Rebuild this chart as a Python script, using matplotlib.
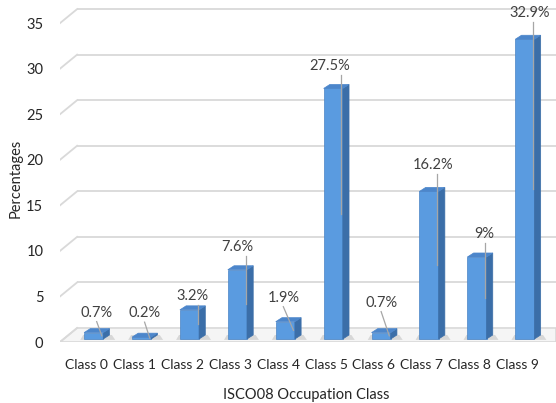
import matplotlib
matplotlib.use("Agg")
import matplotlib.pyplot as plt
from matplotlib.patches import Polygon

categories = ["Class 0", "Class 1", "Class 2", "Class 3", "Class 4",
              "Class 5", "Class 6", "Class 7", "Class 8", "Class 9"]
values = [0.7, 0.2, 3.2, 7.6, 1.9, 27.5, 0.7, 16.2, 9.0, 32.9]
y_ticks = [0, 5, 10, 15, 20, 25, 30, 35]
y_label = "Percentages"
x_label = "ISCO08 Occupation Class"

# label offsets (pixels) relative to top-centre of each bar front face
label_offsets = [(3, 20), (3, 24), (3, 14), (0, 23), (-2, 24),
                 (-4, 22), (0, 30), (4, 26), (7, 23), (5, 26)]

plt.rcParams['font.family'] = ['Lato', 'DejaVu Sans']

W, H = 556, 403
fig = plt.figure(figsize=(W / 100, H / 100), dpi=100)
ax = fig.add_axes([60 / W, 1 - 342 / H, 496 / W, 337 / H])
ax.set_xlim(-0.553, 9.80)
ax.set_ylim(0, 36.99)
for s in ax.spines.values():
    s.set_visible(False)

grid_c = '#D9D9D9'
# wall depth (data units)
wdx, wdy = 0.357, 1.54
xmin, xmax = ax.get_xlim()

# floor
floor = Polygon([(xmin, 0), (xmin + wdx, wdy), (xmax, wdy), (xmax, 0)],
                closed=True, facecolor='#F5F5F5', edgecolor=grid_c, lw=1.2, zorder=1)
ax.add_patch(floor)
for v in y_ticks:
    if v > 0:
        ax.plot([xmin + wdx, xmax], [v + wdy, v + wdy], color=grid_c, lw=1.3, zorder=1,
                solid_capstyle='butt')
    ax.plot([xmin, xmin + wdx], [v, v + wdy], color=grid_c, lw=1.3, zorder=1)

# bars
xs = list(range(len(categories)))
xshift, w = 0.15, 0.40
bdx, bdy = 0.13, 0.44
y0 = 0.33
front_c, side_c, top_c = '#5A9BE0', '#3B6EA8', '#4C86CB'
for i, v in zip(xs, values):
    xc = i + xshift
    x0 = xc - w / 2
    # soft floor shadow
    sh = Polygon([(x0 - 0.08, y0 - 0.1), (x0 + w + bdx + 0.12, y0 - 0.1),
                  (x0 + w + bdx + 0.05, y0 + bdy), (x0 - 0.02, y0 + bdy)],
                 closed=True, facecolor='#A0A0A0', edgecolor='none', alpha=0.35, zorder=2)
    ax.add_patch(sh)
    ax.bar(xc, v, bottom=y0, width=w, color=front_c, edgecolor='#4A84C4', lw=0.5, zorder=3)
    side = Polygon([(x0 + w, y0), (x0 + w + bdx, y0 + bdy), (x0 + w + bdx, y0 + v + bdy),
                    (x0 + w, y0 + v)], closed=True, facecolor=side_c, edgecolor=side_c,
                   lw=0.5, zorder=3)
    top = Polygon([(x0, y0 + v), (x0 + bdx, y0 + v + bdy), (x0 + w + bdx, y0 + v + bdy),
                   (x0 + w, y0 + v)], closed=True, facecolor=top_c, edgecolor=top_c,
                  lw=0.5, zorder=3)
    ax.add_patch(side)
    ax.add_patch(top)

# data labels with leader lines
disp = ax.transData
inv = ax.transData.inverted()
for i, v, (ox, oy) in zip(xs, values, label_offsets):
    xc = i + xshift
    px, py = disp.transform((xc, y0 + v))
    lx, ly = px + ox, py + oy
    ax.annotate(f"{v:g}%", xy=(xc, y0 + v), xytext=(ox, oy), textcoords='offset pixels',
                ha='center', va='center', fontsize=10.5, color='#404040', zorder=5)
    ex, ey = xc + w / 2 - 0.03, y0 + v / 2
    if v >= 3:
        sx = ex
    else:
        sx = inv.transform((lx, 0))[0]
    sy = inv.transform((0, ly - 9))[1]
    ax.plot([sx, ex], [sy, ey], color='#A6A6A6', lw=0.9, zorder=4)

ax.set_xticks(xs)
ax.set_xticklabels(categories, fontsize=10, color='#262626')
ax.set_yticks(y_ticks)
ax.set_yticklabels([str(t) for t in y_ticks], fontsize=10.5, color='#262626')
ax.tick_params(axis='both', length=0)
ax.tick_params(axis='x', pad=12)
ax.tick_params(axis='y', pad=12)

fig.text(16 / W, 1 - 178 / H, y_label, rotation=90, ha='center', va='center',
         fontsize=10.5, color='#262626')
fig.text(306 / W, 1 - 395 / H, x_label, ha='center', va='center',
         fontsize=10.5, color='#262626')

fig.savefig("out.png", dpi=100)
